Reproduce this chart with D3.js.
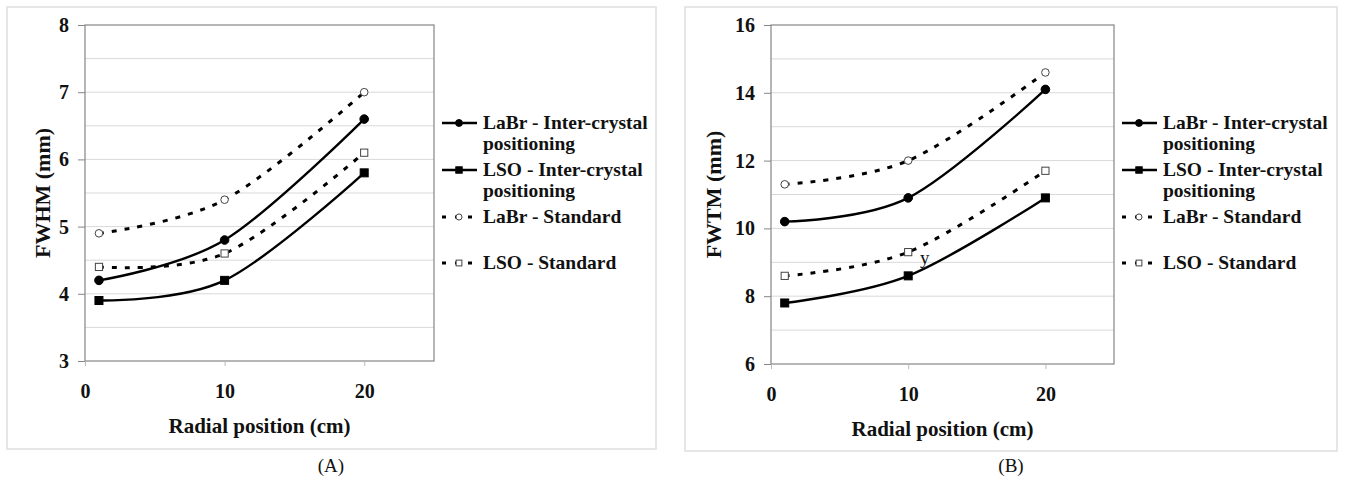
<!DOCTYPE html>
<html>
<head>
<meta charset="utf-8">
<script src="https://cdn.jsdelivr.net/npm/d3@7"></script>
<style>
  body { margin: 0; background: #fff; }
  text { font-family: "Liberation Serif", "Times New Roman", serif; }
</style>
</head>
<body>
<div id="my_dataviz"></div>
<script>
// data
var radial = [1, 10, 20];

var fwhmLabrInter = [4.2, 4.8, 6.6];
var fwhmLsoInter  = [3.9, 4.2, 5.8];
var fwhmLabrStd   = [4.9, 5.4, 7.0];
var fwhmLsoStd    = [4.4, 4.6, 6.1];

var fwtmLabrInter = [10.2, 10.9, 14.1];
var fwtmLsoInter  = [7.8, 8.6, 10.9];
var fwtmLabrStd   = [11.3, 12.0, 14.6];
var fwtmLsoStd    = [8.6, 9.3, 11.7];

var xTicks = [0, 10, 20];
var fwhmTicks = [3, 4, 5, 6, 7, 8];
var fwtmTicks = [6, 8, 10, 12, 14, 16];

var legendLabels = [
  ["LaBr - Inter-crystal", "positioning"],
  ["LSO - Inter-crystal", "positioning"],
  ["LaBr - Standard"],
  ["LSO - Standard"]
];

var svg = d3.select("#my_dataviz")
  .append("svg")
  .attr("width", 1347)
  .attr("height", 481);

function drawPanel(p) {
  var g = svg.append("g");

  // outer chart border
  g.append("rect")
    .attr("x", p.box[0]).attr("y", p.box[1])
    .attr("width", p.box[2]).attr("height", p.box[3])
    .attr("fill", "#fff")
    .attr("stroke", "#dedede")
    .attr("stroke-width", 1.5);

  var x = d3.scaleLinear().domain([0, 25]).range([p.left, p.right]);
  var y = d3.scaleLinear().domain(p.yDomain).range([p.bottom, p.top]);

  // gridlines
  g.selectAll("line.grid")
    .data(d3.range(p.yDomain[0] + p.gridStep, p.yDomain[1] - 0.001, p.gridStep))
    .enter()
    .append("line")
      .attr("x1", p.left).attr("x2", p.right)
      .attr("y1", function(d) { return y(d); })
      .attr("y2", function(d) { return y(d); })
      .attr("stroke", "#d9d9d9")
      .attr("stroke-width", 1);

  // plot area border
  g.append("rect")
    .attr("x", p.left).attr("y", p.top)
    .attr("width", p.right - p.left).attr("height", p.bottom - p.top)
    .attr("fill", "none")
    .attr("stroke", "#858585")
    .attr("stroke-width", 1.2);

  // Y axis
  var ya = g.append("g")
    .attr("transform", "translate(" + p.left + ",0)")
    .call(d3.axisLeft(y).tickValues(p.yTicks).tickSize(7).tickPadding(9).tickFormat(d3.format("d")));
  ya.select(".domain").remove();
  ya.selectAll("line").attr("stroke", "#858585");
  ya.selectAll("text")
    .style("font-family", "Liberation Serif, serif")
    .style("font-size", "20px")
    .style("font-weight", "bold")
    .attr("fill", "#111");

  // X axis
  var xa = g.append("g")
    .attr("transform", "translate(0," + p.bottom + ")")
    .call(d3.axisBottom(x).tickValues(xTicks).tickSize(5).tickPadding(18));
  xa.select(".domain").remove();
  xa.selectAll("line").attr("stroke", "#bbb");
  xa.selectAll("text")
    .style("font-family", "Liberation Serif, serif")
    .style("font-size", "20px")
    .style("font-weight", "bold")
    .attr("fill", "#111");

  // axis titles
  g.append("text")
    .attr("x", (p.left + p.right) / 2)
    .attr("y", p.bottom + 72)
    .attr("text-anchor", "middle")
    .style("font-size", "21px")
    .style("font-weight", "bold")
    .attr("fill", "#111")
    .text("Radial position (cm)");

  g.append("text")
    .attr("transform", "translate(" + p.yTitleX + "," + (p.top + p.bottom) / 2 + ")rotate(-90)")
    .attr("text-anchor", "middle")
    .attr("dy", "0.35em")
    .style("font-size", "22px")
    .style("font-weight", "bold")
    .attr("fill", "#111")
    .text(p.yTitle);

  // panel caption
  g.append("text")
    .attr("x", p.captionX)
    .attr("y", 472)
    .attr("text-anchor", "middle")
    .style("font-size", "19px")
    .attr("fill", "#111")
    .text(p.caption);

  var line = d3.line()
    .x(function(d) { return x(d[0]); })
    .y(function(d) { return y(d[1]); })
    .curve(d3.curveCardinal.tension(0));

  p.series.forEach(function(s) {
    var pts = radial.map(function(r, i) { return [r, s.values[i]]; });
    g.append("path")
      .datum(pts)
      .attr("d", line)
      .attr("fill", "none")
      .attr("stroke", "#000")
      .attr("stroke-width", s.dashed ? 3 : 2.4)
      .attr("stroke-dasharray", s.dashed ? "5,8" : null);

    drawMarkers(g, pts.map(function(d) { return [x(d[0]), y(d[1])]; }), s);
  });

  // annotation
  if (p.note) {
    g.append("text")
      .attr("x", x(p.note[0]))
      .attr("y", y(p.note[1]))
      .attr("text-anchor", "middle")
      .style("font-size", "19px")
      .attr("fill", "#111")
      .text(p.note[2]);
  }

  // legend
  var lx = p.right + 8;
  var rowY = [98, 145, 192, 238];
  p.series.forEach(function(s, i) {
    var cy = p.top + rowY[i];
    g.append("line")
      .attr("x1", lx).attr("x2", lx + 35)
      .attr("y1", cy).attr("y2", cy)
      .attr("stroke", "#000")
      .attr("stroke-width", s.dashed ? 3 : 2.4)
      .attr("stroke-dasharray", s.dashed ? "4,9" : null);
    drawMarkers(g, [[lx + 17, cy]], s, 0.8);
    legendLabels[i].forEach(function(t, j) {
      g.append("text")
        .attr("x", lx + 41)
        .attr("y", cy + 6 + j * 21)
        .style("font-size", "19.5px")
        .style("font-weight", "bold")
        .attr("fill", "#111")
        .text(t);
    });
  });
}

function drawMarkers(g, pts, s, k) {
  k = k || 1;
  pts.forEach(function(pt) {
    if (s.shape === "circle") {
      g.append("circle")
        .attr("cx", pt[0]).attr("cy", pt[1])
        .attr("r", (s.open ? 3.8 : 4.3) * k)
        .attr("fill", s.open ? "#fff" : "#000")
        .attr("stroke", s.open ? "#444" : "#000")
        .attr("stroke-width", 1);
    } else {
      var h = (s.open ? 3.6 : 4) * k;
      g.append("rect")
        .attr("x", pt[0] - h).attr("y", pt[1] - h)
        .attr("width", 2 * h).attr("height", 2 * h)
        .attr("fill", s.open ? "#fff" : "#000")
        .attr("stroke", s.open ? "#444" : "#000")
        .attr("stroke-width", 1);
    }
  });
}

drawPanel({
  box: [7, 7, 649, 442],
  left: 85, right: 434, top: 25, bottom: 361,
  yDomain: [3, 8], yTicks: fwhmTicks, gridStep: 0.5,
  yTitle: "FWHM (mm)", yTitleX: 42,
  caption: "(A)", captionX: 331,
  series: [
    { values: fwhmLabrInter, shape: "circle", open: false, dashed: false },
    { values: fwhmLsoInter,  shape: "square", open: false, dashed: false },
    { values: fwhmLabrStd,   shape: "circle", open: true,  dashed: true },
    { values: fwhmLsoStd,    shape: "square", open: true,  dashed: true }
  ]
});

drawPanel({
  box: [685, 7, 652, 444],
  left: 771, right: 1114, top: 25, bottom: 364,
  yDomain: [6, 16], yTicks: fwtmTicks, gridStep: 1,
  yTitle: "FWTM (mm)", yTitleX: 713,
  caption: "(B)", captionX: 1011,
  note: [11.2, 8.95, "y"],
  series: [
    { values: fwtmLabrInter, shape: "circle", open: false, dashed: false },
    { values: fwtmLsoInter,  shape: "square", open: false, dashed: false },
    { values: fwtmLabrStd,   shape: "circle", open: true,  dashed: true },
    { values: fwtmLsoStd,    shape: "square", open: true,  dashed: true }
  ]
});
</script>
</body>
</html>
